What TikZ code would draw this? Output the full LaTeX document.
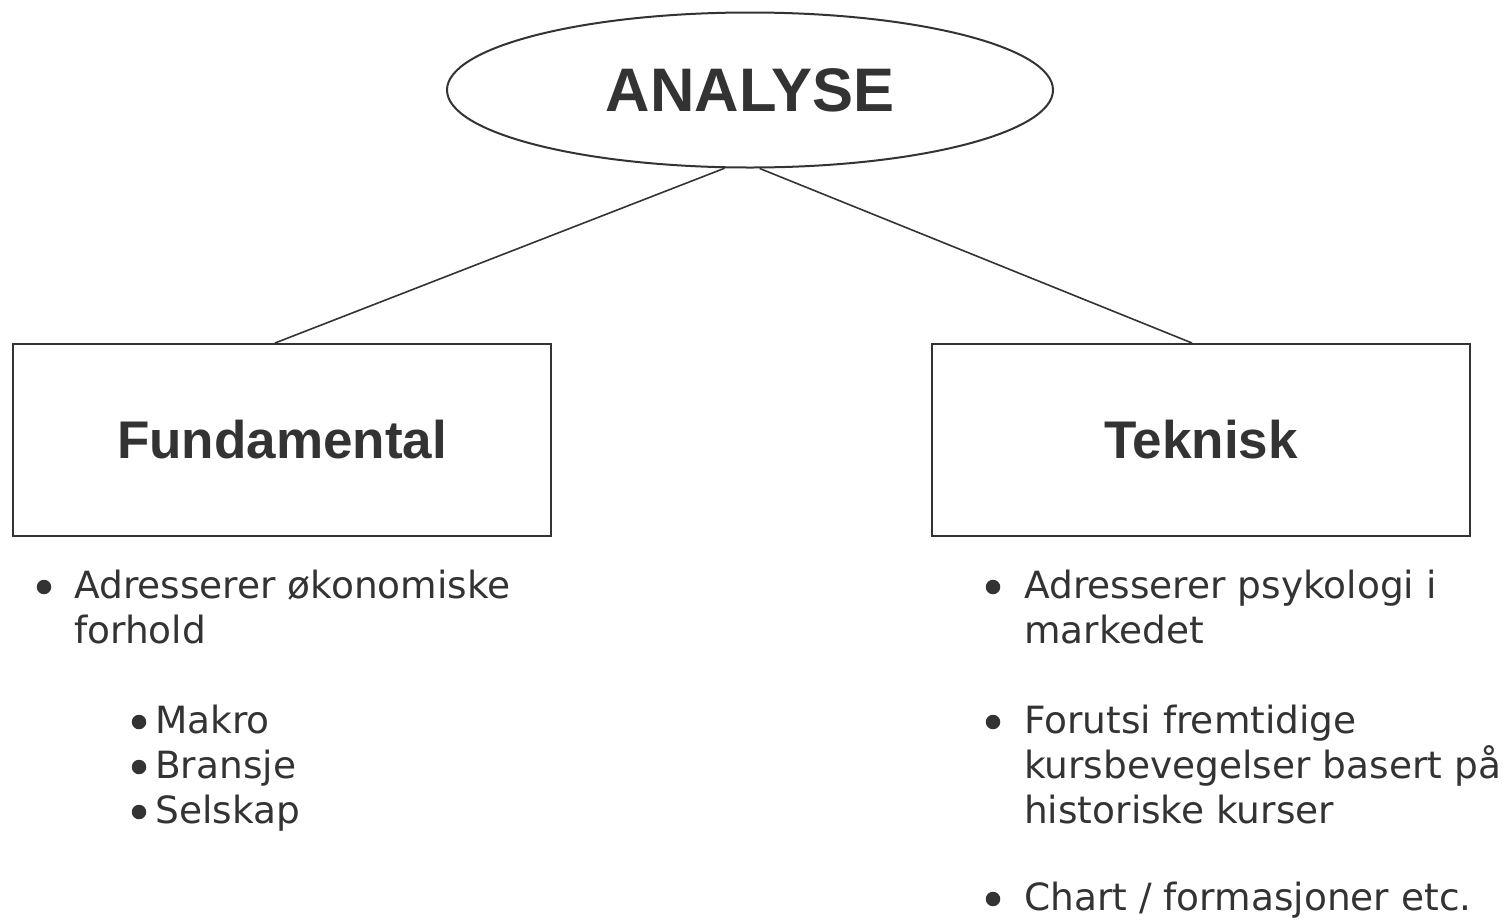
\documentclass[tikz,border=0pt]{standalone}
\usepackage{fontspec}
\setmainfont{DejaVu Sans}
\newfontfamily\headfont{Liberation Sans}
\usetikzlibrary{shapes.geometric}

\definecolor{ink}{HTML}{333333}

\tikzset{
  topic/.style={draw=ink, line width=2pt, text=ink, inner sep=0pt,
                minimum width=538pt, minimum height=192pt,
                font=\headfont\bfseries\fontsize{53}{60}\selectfont},
  point/.style={anchor=base west, inner sep=0pt, text=ink,
                font=\fontsize{37.5}{45}\selectfont},
  dot/.style={circle, fill=ink, inner sep=0pt, minimum size=14.5pt},
  link/.style={draw=ink, line width=1.6pt}
}

\begin{document}
\begin{tikzpicture}[x=1pt, y=-1pt]
\useasboundingbox (0,0) rectangle (1503,919);

% top
\node[ellipse, draw=ink, line width=2pt, minimum width=606pt, minimum height=155pt,
      inner sep=0pt, text=ink, font=\headfont\bfseries\fontsize{61.5}{70}\selectfont]
      (analyse) at (750,90) {ANALYSE};

% the two kinds
\node[topic] (fund) at (282,440) {Fundamental};
\node[topic] (tekn) at (1201,440) {Teknisk};

\path[link] (analyse.252) -- ([xshift=-7pt]fund.north);
\path[link] (analyse.277) -- ([xshift=-9pt]tekn.north);

% left list
\node[dot] (fdot1) at (44,587) {};
\node[point] (fline1) at (74,598) {Adresserer økonomiske};
\node[point] (fline2) at (74,643) {forhold};
\node[dot] (fdot2) at (139,722) {};
\node[point] (makro) at (155,733) {Makro};
\node[dot] (fdot3) at (139,767) {};
\node[point] (bransje) at (155,778) {Bransje};
\node[dot] (fdot4) at (139,812) {};
\node[point] (selskap) at (155,823) {Selskap};

% right list
\node[dot] (tdot1) at (993,587) {};
\node[point] (tline1) at (1024,598) {Adresserer psykologi i};
\node[point] (tline2) at (1024,643) {markedet};
\node[dot] (tdot2) at (993,722) {};
\node[point] (tline3) at (1024,733) {Forutsi fremtidige};
\node[point] (tline4) at (1024,778) {kursbevegelser basert på};
\node[point] (tline5) at (1024,823) {historiske kurser};
\node[dot] (tdot3) at (993,899) {};
\node[point] (tline6) at (1024,910) {Chart / formasjoner etc.};
\end{tikzpicture}
\end{document}
